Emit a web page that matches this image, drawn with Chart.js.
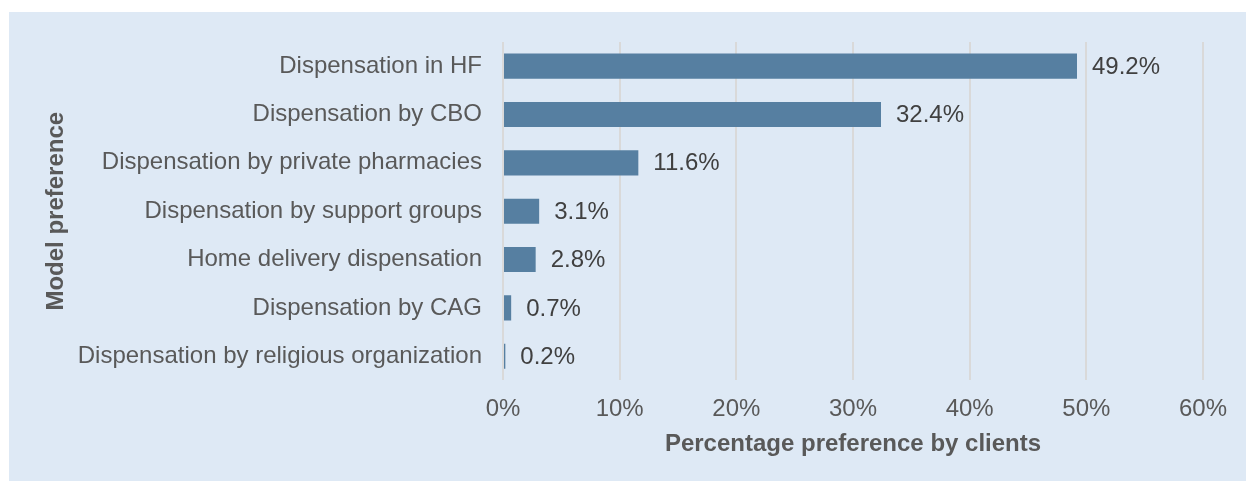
<!DOCTYPE html>
<html>
<head>
<meta charset="utf-8">
<script src="https://cdn.jsdelivr.net/npm/chart.js@4"></script>
<style>
html,body{margin:0;padding:0;background:#ffffff;}
#wrap{position:relative;width:1246px;height:481px;}
</style>
</head>
<body>
<div id="wrap"><canvas id="c" width="1246" height="481"></canvas></div>
<script>
const categories = [
  "Dispensation in HF",
  "Dispensation by CBO",
  "Dispensation by private pharmacies",
  "Dispensation by support groups",
  "Home delivery dispensation",
  "Dispensation by CAG",
  "Dispensation by religious organization"
];
const values = [49.2, 32.4, 11.6, 3.1, 2.8, 0.7, 0.2];
const xTickLabels = ["0%", "10%", "20%", "30%", "40%", "50%", "60%"];
const xTitle = "Percentage preference by clients";
const yTitle = "Model preference";

const FONT = "'Liberation Sans', Arial, sans-serif";
const FS = 24;

const panelBg = {
  id: 'panelBg',
  beforeDraw(chart) {
    const ctx = chart.ctx;
    ctx.save();
    ctx.fillStyle = '#ffffff';
    ctx.fillRect(0, 0, chart.width, chart.height);
    ctx.fillStyle = '#dee9f5';
    ctx.fillRect(9, 12, chart.width - 9, chart.height - 12);
    ctx.restore();
  }
};

const valueLabels = {
  id: 'valueLabels',
  afterDatasetsDraw(chart) {
    const ctx = chart.ctx;
    const meta = chart.getDatasetMeta(0);
    ctx.save();
    ctx.font = FS + "px " + FONT;
    ctx.fillStyle = '#404040';
    ctx.textAlign = 'left';
    ctx.textBaseline = 'middle';
    meta.data.forEach((bar, i) => {
      ctx.fillText(values[i].toFixed(1) + '%', bar.x + 15, bar.y + 1);
    });
    ctx.restore();
  }
};

new Chart(document.getElementById('c'), {
  type: 'bar',
  data: {
    labels: categories,
    datasets: [{
      data: values,
      backgroundColor: '#567fa1',
      borderWidth: 0,
      barPercentage: 0.52,
      categoryPercentage: 1.0
    }]
  },
  options: {
    indexAxis: 'y',
    responsive: false,
    animation: false,
    devicePixelRatio: 1,
    layout: { padding: { left: 38, right: 43, top: 42, bottom: 15 } },
    plugins: {
      legend: { display: false },
      tooltip: { enabled: false }
    },
    scales: {
      x: {
        min: 0,
        max: 60,
        ticks: {
          stepSize: 10,
          padding: 15,
          color: '#595959',
          font: { family: FONT, size: FS },
          callback: (v, i) => xTickLabels[i]
        },
        grid: { color: '#d9d9d9', lineWidth: 2, drawTicks: false },
        border: { display: false },
        title: {
          display: true,
          text: xTitle,
          color: '#595959',
          font: { family: FONT, size: FS, weight: 'bold' },
          padding: { top: -9, bottom: 7 }
        }
      },
      y: {
        ticks: {
          padding: 21,
          color: '#595959',
          font: { family: FONT, size: FS }
        },
        grid: { display: false, drawTicks: false },
        border: { display: false },
        title: {
          display: true,
          text: yTitle,
          color: '#595959',
          font: { family: FONT, size: FS, weight: 'bold' },
          padding: { top: 4, bottom: 4 }
        },
        afterFit(scale) { scale.width = 465; }
      }
    }
  },
  plugins: [panelBg, valueLabels]
});
</script>
</body>
</html>
